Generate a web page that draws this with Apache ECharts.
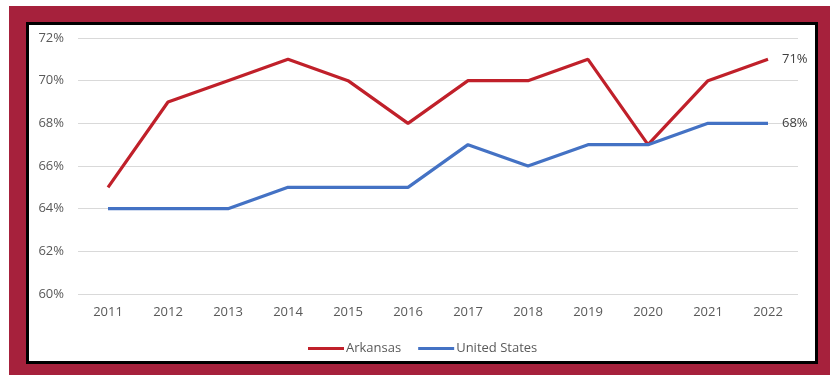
<!DOCTYPE html>
<html>
<head>
<meta charset="utf-8">
<script src="https://cdn.jsdelivr.net/npm/echarts@6/dist/echarts.min.js"></script>
<style>
  html, body { margin: 0; padding: 0; background: #ffffff; }
  #chart { width: 830px; height: 376px; }
</style>
</head>
<body>
<div id="chart"></div>
<script>
// Share of population, Arkansas vs. United States (percent)
const years = ['2011', '2012', '2013', '2014', '2015', '2016', '2017', '2018', '2019', '2020', '2021', '2022'];
const arkansas = [65, 69, 70, 71, 70, 68, 70, 70, 71, 67, 70, 71];
const unitedStates = [64, 64, 64, 65, 65, 65, 67, 66, 67, 67, 68, 68];

const textColor = '#595959';
const fontFamily = '"Open Sans", "Noto Sans", sans-serif';

const chart = echarts.init(document.getElementById('chart'));

function lineSeries(name, data, color) {
  return {
    name: name,
    type: 'line',
    data: data,
    symbol: 'none',
    lineStyle: { color: color, width: 3.2 },
    itemStyle: { color: color },
    endLabel: {
      show: true,
      formatter: '{c}%',
      distance: 14,
      color: '#404040',
      fontSize: 13,
      fontFamily: fontFamily
    },
    z: 3
  };
}

chart.setOption({
  animation: false,
  graphic: [
    {
      type: 'rect',
      shape: { x: 9, y: 6, width: 821, height: 369 },
      style: { fill: '#A6213C' },
      z: -10
    },
    {
      type: 'rect',
      shape: { x: 27.5, y: 23.5, width: 789, height: 339 },
      style: { fill: '#ffffff', stroke: '#000000', lineWidth: 3 },
      z: -9
    }
  ],
  grid: { left: 78, right: 32, top: 38, bottom: 82 },
  legend: {
    top: 337,
    left: 303,
    icon: 'rect',
    itemWidth: 36,
    itemHeight: 3,
    itemGap: 17,
    textStyle: { color: textColor, fontSize: 13, fontFamily: fontFamily, padding: [0, 0, 0, -3] },
    data: ['Arkansas', 'United States']
  },
  xAxis: {
    type: 'category',
    data: years,
    boundaryGap: true,
    axisLine: { show: false },
    axisTick: { show: false },
    axisLabel: { color: textColor, fontSize: 13, fontFamily: fontFamily, margin: 12 }
  },
  yAxis: {
    type: 'value',
    min: 60,
    max: 72,
    interval: 2,
    axisLine: { show: false },
    axisTick: { show: false },
    axisLabel: { color: textColor, fontSize: 13, fontFamily: fontFamily, margin: 14, formatter: '{value}%' },
    splitLine: { lineStyle: { color: '#D9D9D9', width: 1 } }
  },
  series: [
    lineSeries('Arkansas', arkansas, '#C0202A'),
    lineSeries('United States', unitedStates, '#4472C4')
  ]
});
</script>
</body>
</html>
